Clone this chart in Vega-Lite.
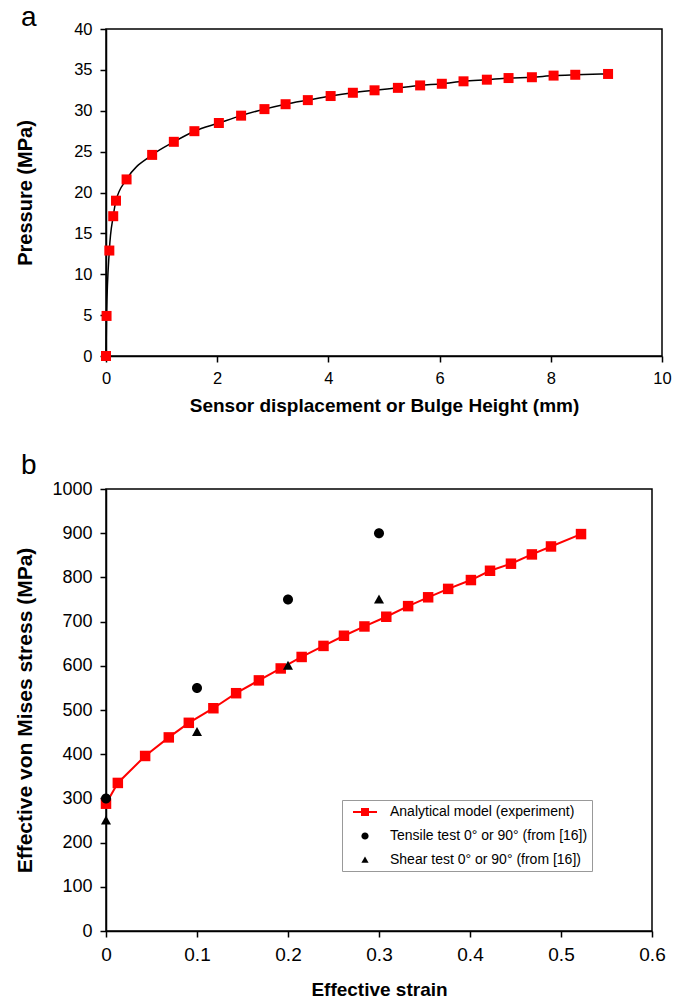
{
  "$schema": "https://vega.github.io/schema/vega-lite/v6.json",
  "padding": {"left": 14, "top": 3, "right": 0, "bottom": 0},
  "spacing": 34,
  "resolve": {"legend": {"color": "independent", "shape": "independent"}},
  "config": {
    "font": "Liberation Sans",
    "view": {"stroke": "black", "strokeWidth": 1.5},
    "axis": {
      "grid": false,
      "labelFlush": false,
      "labelOverlap": false,
      "domainColor": "black",
      "domainWidth": 1.5,
      "tickColor": "black",
      "tickWidth": 1.5,
      "tickSize": 6,
      "labelColor": "black",
      "labelFont": "Liberation Sans",
      "labelPadding": 8,
      "titleColor": "black",
      "titleFont": "Liberation Sans",
      "titleFontWeight": "bold",
      "titleFontSize": 19
    },
    "title": {"font": "Liberation Sans", "fontWeight": "normal", "fontSize": 28, "color": "black", "anchor": "start", "frame": "group"}
  },
  "datasets": {
    "pressure": [
      {"h": 0, "p": 0}, {"h": 0.01, "p": 4.9}, {"h": 0.06, "p": 12.9}, {"h": 0.13, "p": 17.1},
      {"h": 0.18, "p": 19.0}, {"h": 0.37, "p": 21.6}, {"h": 0.83, "p": 24.6}, {"h": 1.22, "p": 26.2},
      {"h": 1.59, "p": 27.5}, {"h": 2.03, "p": 28.5}, {"h": 2.43, "p": 29.4}, {"h": 2.85, "p": 30.2},
      {"h": 3.23, "p": 30.8}, {"h": 3.63, "p": 31.3}, {"h": 4.04, "p": 31.8}, {"h": 4.44, "p": 32.2},
      {"h": 4.83, "p": 32.5}, {"h": 5.25, "p": 32.8}, {"h": 5.65, "p": 33.1}, {"h": 6.04, "p": 33.3},
      {"h": 6.43, "p": 33.6}, {"h": 6.85, "p": 33.8}, {"h": 7.24, "p": 34.0}, {"h": 7.66, "p": 34.1},
      {"h": 8.05, "p": 34.3}, {"h": 8.44, "p": 34.4}, {"h": 9.03, "p": 34.5}
    ],
    "model": [
      {"strain": 0, "stress": 288}, {"strain": 0.013, "stress": 335}, {"strain": 0.043, "stress": 396},
      {"strain": 0.069, "stress": 438}, {"strain": 0.091, "stress": 471}, {"strain": 0.118, "stress": 504},
      {"strain": 0.143, "stress": 538}, {"strain": 0.168, "stress": 567}, {"strain": 0.192, "stress": 594},
      {"strain": 0.215, "stress": 620}, {"strain": 0.239, "stress": 645}, {"strain": 0.2615, "stress": 668},
      {"strain": 0.284, "stress": 689}, {"strain": 0.308, "stress": 711}, {"strain": 0.332, "stress": 735},
      {"strain": 0.354, "stress": 755}, {"strain": 0.376, "stress": 774}, {"strain": 0.401, "stress": 794},
      {"strain": 0.422, "stress": 815}, {"strain": 0.445, "stress": 831}, {"strain": 0.468, "stress": 852},
      {"strain": 0.489, "stress": 870}, {"strain": 0.522, "stress": 898}
    ],
    "tests": [
      {"strain": 0, "stress": 300, "series": "Tensile test 0° or 90° (from [16])"},
      {"strain": 0.1, "stress": 550, "series": "Tensile test 0° or 90° (from [16])"},
      {"strain": 0.2, "stress": 750, "series": "Tensile test 0° or 90° (from [16])"},
      {"strain": 0.3, "stress": 900, "series": "Tensile test 0° or 90° (from [16])"},
      {"strain": 0, "stress": 250, "series": "Shear test 0° or 90° (from [16])"},
      {"strain": 0.1, "stress": 450, "series": "Shear test 0° or 90° (from [16])"},
      {"strain": 0.2, "stress": 600, "series": "Shear test 0° or 90° (from [16])"},
      {"strain": 0.3, "stress": 750, "series": "Shear test 0° or 90° (from [16])"}
    ]
  },
  "vconcat": [
    {
      "width": 556,
      "height": 327,
      "title": {"text": "a", "dx": -85, "offset": -11},
      "data": {"name": "pressure"},
      "encoding": {
        "x": {"field": "h", "type": "quantitative", "scale": {"domain": [0, 10], "nice": false},
          "axis": {"values": [0, 2, 4, 6, 8, 10], "title": "Sensor displacement or Bulge Height (mm)", "labelFontSize": 16.5, "titleFontSize": 19, "titlePadding": 10}},
        "y": {"field": "p", "type": "quantitative", "scale": {"domain": [0, 40], "nice": false},
          "axis": {"values": [0, 5, 10, 15, 20, 25, 30, 35, 40], "title": "Pressure (MPa)", "labelFontSize": 16.5, "titleFontSize": 20, "titlePadding": 38}}
      },
      "layer": [
        {"mark": {"type": "line", "color": "black", "strokeWidth": 1.5, "interpolate": "monotone"}},
        {"mark": {"type": "point", "shape": "square", "filled": true, "color": "#ff0000", "opacity": 1, "size": 100}}
      ]
    },
    {
      "width": 546,
      "height": 442,
      "title": {"text": "b", "dx": -85, "offset": 0},
      "layer": [
        {
          "data": {"name": "model"},
          "mark": {"type": "line", "color": "#ff0000", "strokeWidth": 2},
          "encoding": {
            "x": {"field": "strain", "type": "quantitative", "scale": {"domain": [0, 0.6], "nice": false},
              "axis": {"values": [0, 0.1, 0.2, 0.3, 0.4, 0.5, 0.6], "format": "~g", "title": "Effective strain", "labelFontSize": 19, "titleFontSize": 19, "titlePadding": 16}},
            "y": {"field": "stress", "type": "quantitative", "scale": {"domain": [0, 1000], "nice": false},
              "axis": {"values": [0, 100, 200, 300, 400, 500, 600, 700, 800, 900, 1000], "format": "d", "title": "Effective von Mises stress (MPa)", "labelFontSize": 18, "titleFontSize": 21, "titlePadding": 16}}
          }
        },
        {
          "data": {"name": "model"},
          "mark": {"type": "point", "shape": "square", "filled": true, "color": "#ff0000", "opacity": 1, "size": 110},
          "encoding": {
            "x": {"field": "strain", "type": "quantitative"},
            "y": {"field": "stress", "type": "quantitative"}
          }
        },
        {
          "data": {"name": "tests"},
          "mark": {"type": "point", "filled": true, "opacity": 1, "size": 494},
          "encoding": {
            "x": {"field": "strain", "type": "quantitative"},
            "y": {"field": "stress", "type": "quantitative"},
            "color": {"field": "series", "type": "nominal",
              "scale": {"domain": ["Analytical model (experiment)", "Tensile test 0° or 90° (from [16])", "Shear test 0° or 90° (from [16])"], "range": ["#ff0000", "#000000", "#000000"]},
              "legend": {"title": null, "orient": "bottom-right", "offset": 60, "padding": 4, "rowPadding": 9, "symbolSize": 256, "symbolOffset": 11, "labelOffset": 17, "labelFontSize": 14, "labelLimit": 0, "labelFont": "Liberation Sans", "labelColor": "black", "strokeColor": "#999999", "fillColor": "white", "symbolOpacity": 1, "symbolStrokeWidth": 0}},
            "shape": {"field": "series", "type": "nominal",
              "scale": {"domain": ["Analytical model (experiment)", "Tensile test 0° or 90° (from [16])", "Shear test 0° or 90° (from [16])"],
                "range": ["M-1.5,-0.12H1.5V0.12H-1.5Z M-0.5,-0.5H0.5V0.5H-0.5Z", "M0.45,0A0.45,0.45 0 1,1 -0.45,0A0.45,0.45 0 1,1 0.45,0Z", "M0,-0.45L0.45,0.35L-0.45,0.35Z"]},
              "legend": {"title": null, "orient": "bottom-right", "offset": 60, "padding": 4, "rowPadding": 9, "symbolSize": 256, "symbolOffset": 11, "labelOffset": 17, "labelFontSize": 14, "labelLimit": 0, "labelFont": "Liberation Sans", "labelColor": "black", "strokeColor": "#999999", "fillColor": "white", "symbolOpacity": 1, "symbolStrokeWidth": 0}}
          }
        }
      ]
    }
  ]
}
